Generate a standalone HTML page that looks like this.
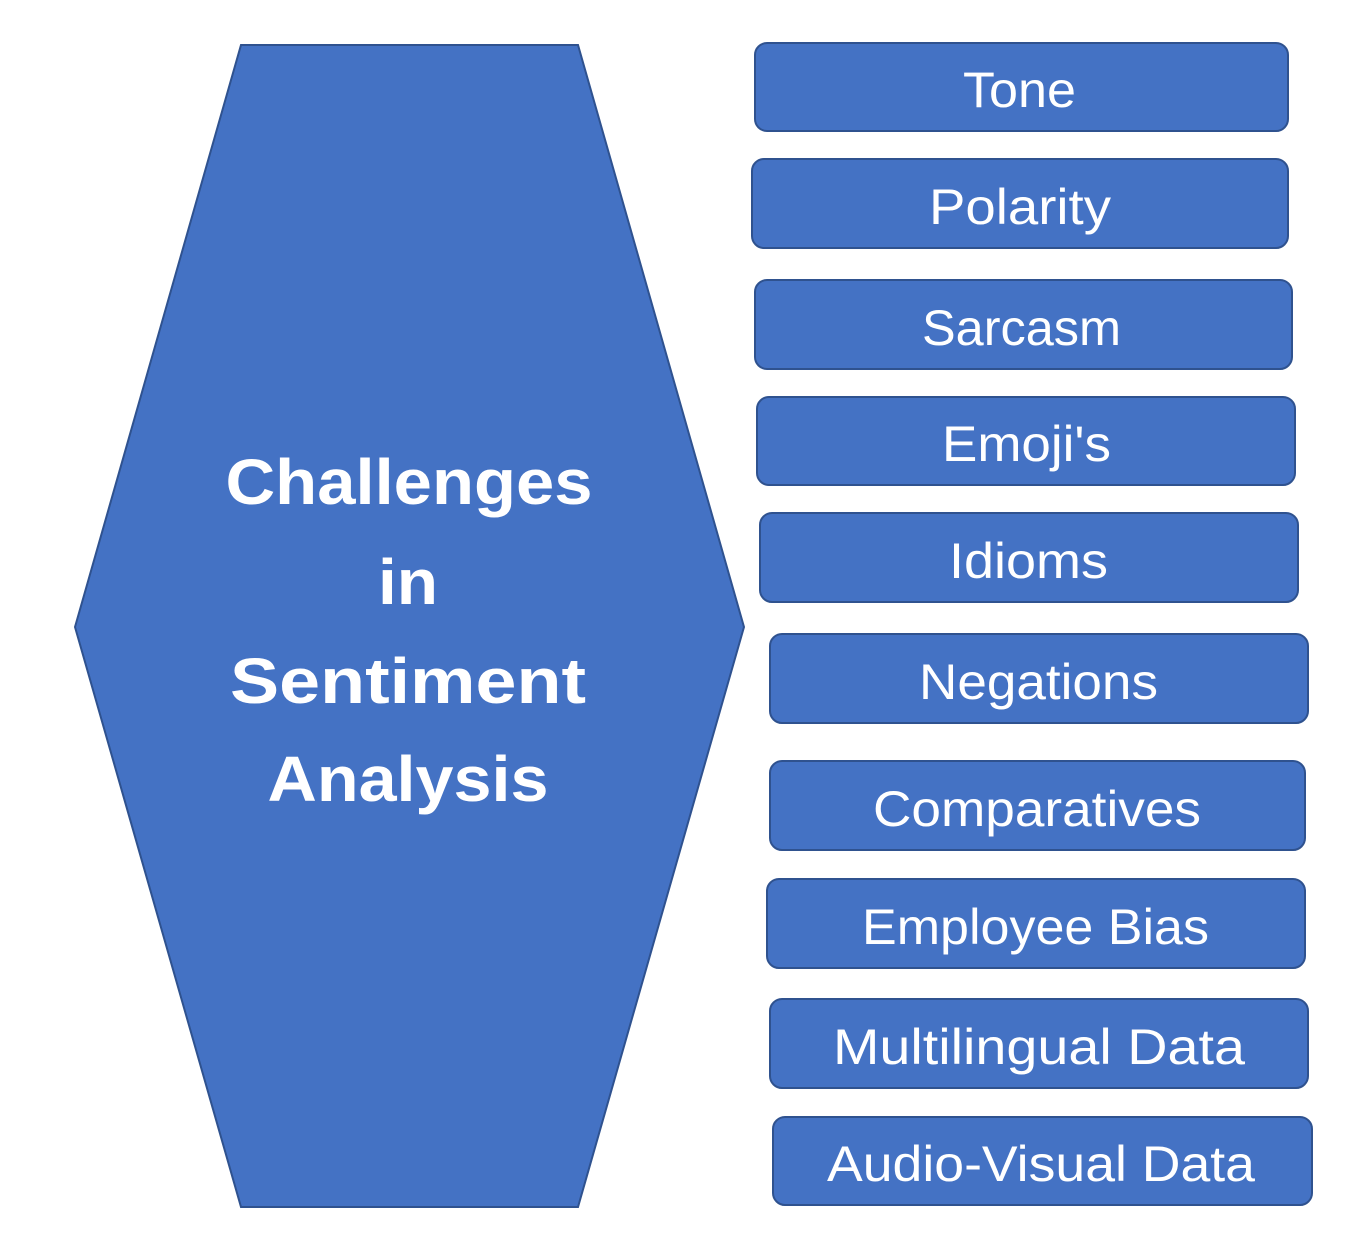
<!DOCTYPE html>
<html><head><meta charset="utf-8"><style>
html,body{margin:0;padding:0;background:#fff;}
svg{display:block;}
text{font-family:"Liberation Sans",sans-serif;fill:#fff;}
</style></head><body>
<svg width="1346" height="1234" viewBox="0 0 1346 1234" xmlns="http://www.w3.org/2000/svg">
<polygon points="241,45 578,45 744,627 578,1207 241,1207 75,627" fill="#4472C4" stroke="#2F528F" stroke-width="2"/>
<g font-weight="bold" font-size="64" text-anchor="middle" lengthAdjust="spacingAndGlyphs">
<text x="409" y="504" textLength="367" lengthAdjust="spacingAndGlyphs">Challenges</text>
<text x="408" y="604" textLength="60" lengthAdjust="spacingAndGlyphs">in</text>
<text x="408" y="703" textLength="356" lengthAdjust="spacingAndGlyphs">Sentiment</text>
<text x="408" y="801" textLength="281" lengthAdjust="spacingAndGlyphs">Analysis</text>
</g>
<g fill="#4472C4" stroke="#2F528F" stroke-width="2">
<rect x="755" y="43" width="533" height="88" rx="12"/>
<rect x="752" y="159" width="536" height="89" rx="12"/>
<rect x="755" y="280" width="537" height="89" rx="12"/>
<rect x="757" y="397" width="538" height="88" rx="12"/>
<rect x="760" y="513" width="538" height="89" rx="12"/>
<rect x="770" y="634" width="538" height="89" rx="12"/>
<rect x="770" y="761" width="535" height="89" rx="12"/>
<rect x="767" y="879" width="538" height="89" rx="12"/>
<rect x="770" y="999" width="538" height="89" rx="12"/>
<rect x="773" y="1117" width="539" height="88" rx="12"/>
</g>
<g font-size="50" text-anchor="middle">
<text x="1019.5" y="107" textLength="113" lengthAdjust="spacingAndGlyphs">Tone</text>
<text x="1020" y="224" textLength="182" lengthAdjust="spacingAndGlyphs">Polarity</text>
<text x="1021.5" y="345" textLength="199" lengthAdjust="spacingAndGlyphs">Sarcasm</text>
<text x="1026.5" y="461" textLength="169" lengthAdjust="spacingAndGlyphs">Emoji's</text>
<text x="1028.5" y="578" textLength="159" lengthAdjust="spacingAndGlyphs">Idioms</text>
<text x="1038.5" y="699" textLength="239" lengthAdjust="spacingAndGlyphs">Negations</text>
<text x="1037" y="826" textLength="328" lengthAdjust="spacingAndGlyphs">Comparatives</text>
<text x="1035.5" y="944" textLength="347" lengthAdjust="spacingAndGlyphs">Employee Bias</text>
<text x="1039" y="1064" textLength="412" lengthAdjust="spacingAndGlyphs">Multilingual Data</text>
<text x="1041" y="1181" textLength="428" lengthAdjust="spacingAndGlyphs">Audio-Visual Data</text>
</g>
</svg>
</body></html>
